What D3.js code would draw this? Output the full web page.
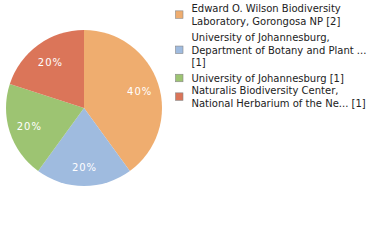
<!DOCTYPE html>
<html>
<head>
<meta charset="utf-8">
<script src="https://cdn.jsdelivr.net/npm/d3@7"></script>
<style>
  body { margin: 0; background: #fff; }
</style>
</head>
<body>
<div id="chart"></div>
<script>
// Chart data
const labels = [
  ['Edward O. Wilson Biodiversity', 'Laboratory, Gorongosa NP [2]'],
  ['University of Johannesburg,', 'Department of Botany and Plant ...', '[1]'],
  ['University of Johannesburg [1]'],
  ['Naturalis Biodiversity Center,', 'National Herbarium of the Ne... [1]']
]
const counts = [2, 1, 1, 1]
const colours = ['#EFAD6F', '#9FBBDF', '#9DC472', '#DB7559']

const width = 380
const height = 240
const cx = 84
const cy = 108
const radius = 78
const fontFamily = 'DejaVu Sans, sans-serif'

const svg = d3.select('#chart')
  .append('svg')
  .attr('width', width)
  .attr('height', height)
  .style('font-family', fontFamily)

const total = d3.sum(counts)
const pie = d3.pie().sort(null).value(d => d)
const arcs = pie(counts)
const arc = d3.arc().innerRadius(0).outerRadius(radius)
const labelArc = d3.arc().innerRadius(58).outerRadius(58)

const gPie = svg.append('g')
  .attr('transform', `translate(${cx},${cy})`)

gPie.selectAll('path')
  .data(arcs)
  .join('path')
  .attr('d', arc)
  .style('fill', (d, i) => colours[i])

gPie.selectAll('text')
  .data(arcs)
  .join('text')
  .attr('transform', d => {
    const [x, y] = labelArc.centroid(d)
    return `translate(${x + 0.5},${y + 1})`
  })
  .attr('dy', '0.35em')
  .style('text-anchor', 'middle')
  .style('font-size', '10px')
  .style('letter-spacing', '1px')
  .style('fill', '#fff')
  .text(d => `${Math.round(d.value / total * 100)}%`)

// Legend
const lineHeight = 12.4
const entryGaps = [4.2, 3.4, 0]
const legendX = 175.5
const textX = 191.5
let y = 12.3
const gLegend = svg.append('g')
labels.forEach((lines, i) => {
  const blockTop = y - 7.3
  const blockBottom = y + (lines.length - 1) * lineHeight
  gLegend.append('rect')
    .attr('x', legendX)
    .attr('y', (blockTop + blockBottom) / 2 - 4)
    .attr('width', 7.5)
    .attr('height', 7.5)
    .style('fill', colours[i])
    .style('stroke', '#888')
    .style('stroke-width', 0.6)
  lines.forEach((t, j) => {
    gLegend.append('text')
      .attr('x', textX)
      .attr('y', y + j * lineHeight)
      .style('font-size', '10px')
      .style('fill', '#222')
      .text(t)
  })
  y += lines.length * lineHeight + (entryGaps[i] || 0)
})
</script>
</body>
</html>
